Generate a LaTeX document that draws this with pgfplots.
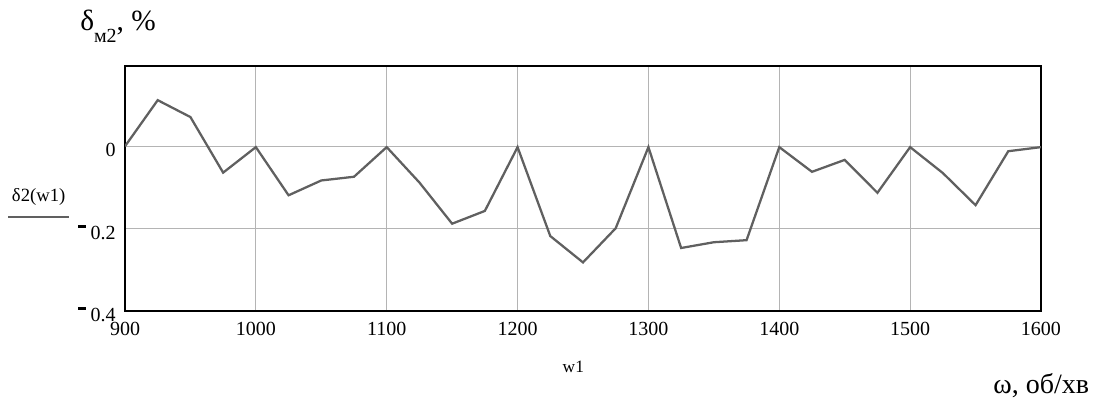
\documentclass[border=0pt]{standalone}
\usepackage{pgfplots}
\pgfplotsset{compat=1.18}
\usepackage{fontspec}
\setmainfont{Liberation Serif}
\definecolor{dline}{HTML}{606060}
\definecolor{gridc}{HTML}{B4B4B4}
\newcommand{\negm}{\rule[0.55em]{0.38em}{0.17em}\hspace{0.25em}}
\pgfplotstableread{
x y
900 0
925 0.112
950 0.071
975 -0.064
1000 -0.002
1025 -0.119
1050 -0.083
1075 -0.074
1100 -0.002
1125 -0.088
1150 -0.188
1175 -0.157
1200 -0.002
1225 -0.218
1250 -0.282
1275 -0.199
1300 -0.002
1325 -0.247
1350 -0.233
1375 -0.228
1400 -0.002
1425 -0.062
1450 -0.033
1475 -0.113
1500 -0.002
1525 -0.065
1550 -0.143
1575 -0.012
1600 -0.002
}\datatable
\begin{document}
\begin{tikzpicture}
\path (0,0) rectangle (822.75pt,299.25pt);
\begin{axis}[
  at={(93.75pt,66pt)}, anchor=south west,
  scale only axis, width=687pt, height=183.75pt,
  xmin=900, xmax=1600, ymin=-0.4, ymax=0.195,
  xtick={900,1000,...,1600},
  ytick={-0.4,-0.2,0},
  yticklabels={\negm0.4,\negm0.2,0},
  major tick length=0pt,
  grid=major,
  major grid style={gridc, line width=0.8pt},
  axis line style={black, line width=1.8pt},
  tick label style={font=\fontsize{15}{17}\selectfont},
  /pgf/number format/assume math mode=true,
  /pgf/number format/1000 sep={},
  xticklabel style={yshift=-5pt},
  yticklabel style={xshift=-3.5pt, yshift=-2.5pt},
]
\addplot[dline, line width=1.7pt] table[x=x,y=y] {\datatable};
\end{axis}
\node[anchor=base west, font=\fontsize{22}{24}\selectfont, inner sep=0] at (60pt,276pt) {δ\raisebox{-0.4em}{\fontsize{15}{17}\selectfont м2}, \%};
\node[anchor=base, font=\fontsize{14}{16}\selectfont, inner sep=0] at (29pt,148pt) {δ2(w1)};
\draw[dline, line width=2.2pt] (6pt,136.5pt) -- (52pt,136.5pt);
\node[font=\fontsize{13}{15}\selectfont, inner sep=0] at (430pt,24pt) {w1};
\node[anchor=base east, font=\fontsize{21}{23}\selectfont, inner sep=0] at (817pt,4pt) {ω, об/хв};
\end{tikzpicture}
\end{document}
